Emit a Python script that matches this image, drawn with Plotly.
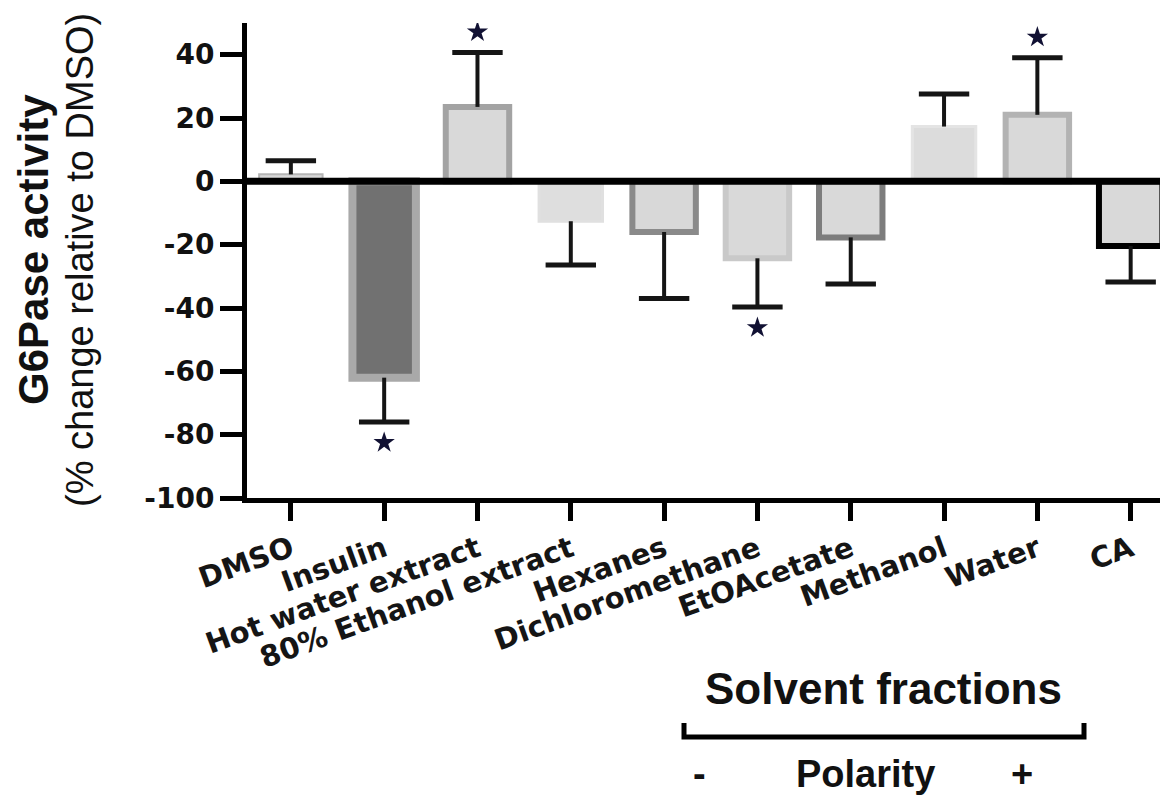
import plotly.graph_objects as go

categories = ["DMSO", "Insulin", "Hot water extract", "80% Ethanol extract", "Hexanes",
              "Dichloromethane", "EtOAcetate", "Methanol", "Water", "CA"]
values = [2.2, -62.0, 23.5, -12.6, -16.0, -24.3, -17.7, 17.3, 21.0, -20.4]
errors = [4.3, 14.0, 17.2, 13.8, 21.0, 15.4, 14.7, 10.3, 18.0, 11.4]
significant = [False, True, True, False, False, True, False, False, True, False]
y_ticks = [40, 20, 0, -20, -40, -60, -80, -100]
y_tick_labels = ["40", "20", "0", "-20", "-40", "-60", "-80", "-100"]

fill_colors = ["#d8d8d8", "#717171", "#d9d9d9", "#dedede", "#d8d8d8",
               "#d9d9d9", "#d9d9d9", "#dcdcdc", "#d9d9d9", "#d9d9d9"]
line_colors = ["#b5b5b5", "#a9a9a9", "#a3a3a3", "#e0e0e0", "#8a8a8a",
               "#c9c9c9", "#7d7d7d", "#e4e4e4", "#b3b3b3", "#000000"]
line_widths = [2, 8, 6, 3, 6, 6, 6, 3, 6, 6]

# the page body has an 8px margin, so the figure is drawn 8px in from the corner
OFF = 8
W, H = 1168 - OFF, 798 - OFF
# plot area edges in screen pixels
SL, SR, ST, SB = 247, 1168, 23, 498
PL, PR, PT, PB = SL - OFF, SR - OFF, ST - OFF, SB - OFF


def px_x(sx):
    return (sx - SL) / (SR - SL)


def px_y(sy):
    return (SB - sy) / (SB - ST)


xs = list(range(len(categories)))
sign = [1 if v >= 0 else -1 for v in values]
ends = [v + s * e for v, s, e in zip(values, sign, errors)]

stem_x, stem_y = [], []
for i, v, e in zip(xs, values, ends):
    stem_x += [i, i, None]
    stem_y += [v, e, None]

star_x = [i for i, s in zip(xs, significant) if s]
star_y = [e + s * 6.5 for e, s, sig in zip(ends, sign, significant) if sig]

fig = go.Figure()
fig.add_trace(go.Bar(
    x=xs, y=values, width=0.68,
    marker=dict(color=fill_colors, line=dict(color=line_colors, width=line_widths)),
    showlegend=False, hoverinfo="skip"))
fig.add_trace(go.Scatter(
    x=stem_x, y=stem_y, mode="lines",
    line=dict(color="#151515", width=4), showlegend=False, hoverinfo="skip"))
fig.add_trace(go.Scatter(
    x=xs, y=ends, mode="markers",
    marker=dict(symbol="line-ew", size=36, line=dict(color="#151515", width=5)),
    showlegend=False, hoverinfo="skip"))
fig.add_trace(go.Scatter(
    x=star_x, y=star_y, mode="markers",
    marker=dict(symbol="star", size=16, color="#111133"),
    showlegend=False, hoverinfo="skip"))

# thick zero line drawn above the bars
fig.add_shape(type="line", xref="paper", yref="y", x0=0, x1=1, y0=0, y1=0,
              line=dict(color="black", width=7), layer="above")

# bracket under "Solvent fractions"
bx0, bx1, by, bt = px_x(684), px_x(1084), px_y(737), px_y(723)
fig.add_shape(type="path", xref="paper", yref="paper",
              path=f"M {bx0},{bt} L {bx0},{by} L {bx1},{by} L {bx1},{bt}",
              line=dict(color="black", width=5))

ann_font = "Liberation Sans, Arial, sans-serif"
annotations = [
    dict(text="<b>G6Pase activity</b>", x=px_x(33), y=px_y(250), textangle=-90,
         font=dict(family=ann_font, size=42, color="#111")),
    dict(text="(% change relative to DMSO)", x=px_x(80), y=px_y(260), textangle=-90,
         font=dict(family=ann_font, size=38, color="#111")),
    dict(text="<b>Solvent fractions</b>", x=px_x(883), y=px_y(688),
         font=dict(family=ann_font, size=44, color="#111")),
    dict(text="<b>-</b>", x=px_x(699), y=px_y(797), yanchor="bottom",
         font=dict(family=ann_font, size=38, color="#111")),
    dict(text="<b>Polarity</b>", x=px_x(865), y=px_y(797), yanchor="bottom",
         font=dict(family=ann_font, size=38, color="#111")),
    dict(text="<b>+</b>", x=px_x(1022), y=px_y(797), yanchor="bottom",
         font=dict(family=ann_font, size=38, color="#111")),
]
for a in annotations:
    a.setdefault("yanchor", "middle")
    a.update(xref="paper", yref="paper", showarrow=False, xanchor="center")

fig.update_layout(
    width=W, height=H,
    margin=dict(l=PL, r=W - PR, t=PT, b=H - PB, pad=0, autoexpand=False),
    paper_bgcolor="white", plot_bgcolor="white",
    annotations=annotations,
    xaxis=dict(
        range=[-0.47, 9.40], tickmode="array", tickvals=xs, ticktext=categories,
        tickangle=-20, showgrid=False, zeroline=False, automargin=False,
        showline=True, linecolor="black", linewidth=5,
        ticks="outside", ticklen=18, tickwidth=5, tickcolor="black",
        tickfont=dict(family="DejaVu Sans, sans-serif", size=29, color="#151515", weight="bold"),
    ),
    yaxis=dict(
        range=[-100, 50], tickmode="array", tickvals=y_ticks, ticktext=y_tick_labels,
        showgrid=False, zeroline=False, automargin=False,
        showline=True, linecolor="black", linewidth=5,
        ticks="outside", ticklen=22, tickwidth=5, tickcolor="black",
        tickfont=dict(family="DejaVu Sans, sans-serif", size=28, color="#111", weight="bold"),
    ),
)

fig.write_html("out.html")
